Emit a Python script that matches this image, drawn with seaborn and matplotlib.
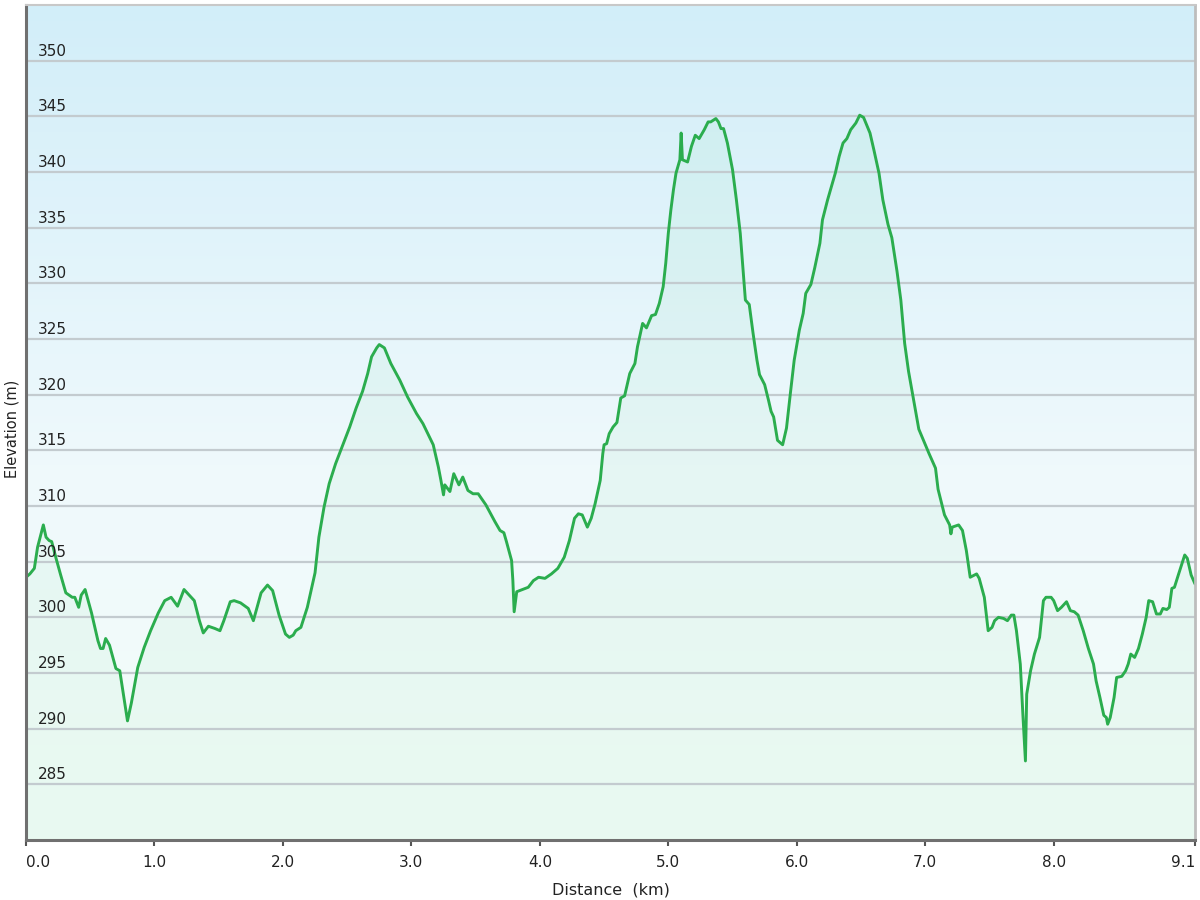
import numpy as np
import pandas as pd
import matplotlib
matplotlib.use("Agg")
import matplotlib.pyplot as plt
from matplotlib.colors import LinearSegmentedColormap
import seaborn as sns

# ---- data ----
distance_km = [
    0.00, 0.03, 0.065, 0.09, 0.135, 0.156, 0.18, 0.20, 0.234, 0.27, 0.31, 0.36, 0.38, 0.41, 0.43, 0.46,
    0.51, 0.56, 0.58, 0.60, 0.62, 0.65, 0.70, 0.73, 0.79, 0.82, 0.87, 0.92, 0.97, 1.03, 1.08, 1.13,
    1.18, 1.23, 1.31, 1.35, 1.38, 1.42, 1.47, 1.51, 1.54, 1.59, 1.62, 1.67, 1.73, 1.77, 1.83, 1.88,
    1.92, 1.97, 2.02, 2.05, 2.08, 2.10, 2.14, 2.19, 2.25, 2.28, 2.32, 2.36, 2.41, 2.47, 2.52, 2.57,
    2.62, 2.66, 2.69, 2.73, 2.75, 2.79, 2.84, 2.91, 2.97, 3.04, 3.09, 3.17, 3.21, 3.23, 3.25, 3.26,
    3.30, 3.33, 3.37, 3.40, 3.44, 3.48, 3.52, 3.58, 3.65, 3.69, 3.72, 3.74, 3.78, 3.79, 3.80, 3.82,
    3.91, 3.95, 3.99, 4.04, 4.09, 4.14, 4.19, 4.23, 4.27, 4.30, 4.33, 4.37, 4.40, 4.43, 4.47, 4.49,
    4.50, 4.52, 4.54, 4.57, 4.60, 4.63, 4.66, 4.70, 4.74, 4.76, 4.80, 4.83, 4.87, 4.90, 4.93, 4.96,
    4.98, 5.00, 5.02, 5.04, 5.06, 5.09, 5.10, 5.11, 5.15, 5.18, 5.21, 5.24, 5.28, 5.31, 5.33, 5.37,
    5.39, 5.41, 5.43, 5.46, 5.50, 5.53, 5.56, 5.58, 5.60, 5.63, 5.66, 5.69, 5.71, 5.75, 5.78, 5.80,
    5.82, 5.85, 5.89, 5.92, 5.95, 5.98, 6.02, 6.05, 6.07, 6.11, 6.14, 6.18, 6.20, 6.24, 6.27, 6.30,
    6.33, 6.36, 6.39, 6.42, 6.46, 6.49, 6.52, 6.57, 6.60, 6.64, 6.67, 6.71, 6.74, 6.78, 6.81, 6.84,
    6.87, 6.91, 6.95, 6.99, 7.03, 7.08, 7.10, 7.15, 7.19, 7.20, 7.21, 7.26, 7.29, 7.32, 7.35, 7.40,
    7.42, 7.46, 7.49, 7.52, 7.54, 7.57, 7.61, 7.64, 7.67, 7.69, 7.71, 7.74, 7.76, 7.78, 7.79, 7.82,
    7.85, 7.89, 7.92, 7.94, 7.98, 8.00, 8.03, 8.06, 8.10, 8.13, 8.16, 8.19, 8.23, 8.27, 8.31, 8.33,
    8.36, 8.39, 8.41, 8.42, 8.44, 8.47, 8.49, 8.53, 8.56, 8.58, 8.60, 8.63, 8.66, 8.69, 8.72, 8.74,
    8.77, 8.80, 8.83, 8.85, 8.88, 8.90, 8.92, 8.94, 8.97, 9.02, 9.04, 9.07, 9.10,
]
elevation_m = [
    303.6, 303.9, 304.4, 306.3, 308.3, 307.2, 306.9, 306.8, 305.3, 303.8, 302.2, 301.8, 301.8, 300.9, 302.0, 302.5,
    300.4, 297.9, 297.2, 297.2, 298.1, 297.5, 295.4, 295.2, 290.7, 292.3, 295.5, 297.3, 298.8, 300.4, 301.5, 301.8,
    301.0, 302.5, 301.5, 299.7, 298.6, 299.2, 299.0, 298.8, 299.7, 301.4, 301.5, 301.3, 300.8, 299.7, 302.2, 302.9,
    302.4, 300.2, 298.5, 298.2, 298.4, 298.8, 299.1, 300.9, 304.0, 307.2, 309.9, 312.0, 313.8, 315.6, 317.1, 318.8,
    320.3, 321.9, 323.4, 324.2, 324.5, 324.2, 322.8, 321.3, 319.8, 318.3, 317.4, 315.5, 313.5, 312.3, 311.0, 311.9,
    311.3, 312.9, 311.9, 312.6, 311.4, 311.1, 311.1, 310.1, 308.6, 307.8, 307.6, 306.8, 305.1, 303.3, 300.5, 302.3,
    302.7, 303.3, 303.6, 303.5, 303.9, 304.4, 305.4, 306.9, 308.9, 309.3, 309.2, 308.1, 308.9, 310.2, 312.3, 314.7,
    315.5, 315.6, 316.5, 317.1, 317.5, 319.7, 319.9, 321.9, 322.8, 324.3, 326.4, 326.0, 327.1, 327.2, 328.2, 329.7,
    331.8, 334.5, 336.6, 338.4, 339.9, 341.1, 343.5, 341.1, 340.9, 342.3, 343.3, 343.0, 343.8, 344.5, 344.5, 344.8,
    344.5, 343.9, 343.9, 342.6, 340.2, 337.5, 334.5, 331.5, 328.5, 328.1, 325.5, 323.1, 321.8, 320.9, 319.5, 318.5,
    318.0, 315.9, 315.5, 317.0, 320.1, 323.1, 325.8, 327.3, 329.1, 329.9, 331.4, 333.6, 335.7, 337.5, 338.7, 339.9,
    341.4, 342.6, 343.0, 343.8, 344.4, 345.1, 344.9, 343.5, 342.0, 339.9, 337.5, 335.3, 334.1, 331.1, 328.5, 324.6,
    322.1, 319.5, 316.9, 315.8, 314.7, 313.4, 311.5, 309.2, 308.3, 307.5, 308.1, 308.3, 307.8, 306.0, 303.6, 303.9,
    303.5, 301.8, 298.8, 299.1, 299.7, 300.0, 299.9, 299.7, 300.2, 300.2, 298.8, 295.8, 291.3, 287.1, 293.1, 295.2,
    296.7, 298.2, 301.5, 301.8, 301.8, 301.5, 300.6, 300.9, 301.4, 300.6, 300.5, 300.2, 298.8, 297.2, 295.8, 294.3,
    292.8, 291.2, 291.0, 290.4, 291.0, 292.8, 294.6, 294.7, 295.2, 295.8, 296.7, 296.4, 297.2, 298.5, 300.0, 301.5,
    301.4, 300.3, 300.3, 300.8, 300.7, 300.9, 302.6, 302.7, 303.8, 305.6, 305.3, 303.8, 303.0,
]
x_ticks = [0, 1, 2, 3, 4, 5, 6, 7, 8, 9.1]
x_tick_labels = ["0.0", "1.0", "2.0", "3.0", "4.0", "5.0", "6.0", "7.0", "8.0", "9.1"]
y_ticks = [285, 290, 295, 300, 305, 310, 315, 320, 325, 330, 335, 340, 345, 350]
x_label = "Distance  (km)"
y_label = "Elevation (m)"

df = pd.DataFrame({"distance": distance_km, "elevation": elevation_m})

sns.set_theme(style="white")
plt.rcParams["font.family"] = ["DejaVu Sans"]

fig = plt.figure(figsize=(12, 9), dpi=100)
ax = fig.add_axes([26 / 1200, 1 - 840 / 900, 1169 / 1200, 835 / 900])

xmin, xmax, ymin, ymax = 0, 9.1, 280, 355
ax.set_xlim(xmin, xmax)
ax.set_ylim(ymin, ymax)

# background gradient
cmap = LinearSegmentedColormap.from_list(
    "bg", [(0.0, "#f4fdf9"), (0.45, "#eff9fc"), (1.0, "#d2eef9")]
)
grad = np.linspace(0, 1, 256).reshape(-1, 1)
ax.imshow(grad, extent=[xmin, xmax, ymin, ymax], origin="lower",
          aspect="auto", cmap=cmap, zorder=0)

# fill under curve
ax.fill_between(df["distance"], df["elevation"], ymin, color="#3ccf6e",
                alpha=0.055, linewidth=0, zorder=1)

# line
sns.lineplot(data=df, x="distance", y="elevation", ax=ax, color="#2bad4e",
             linewidth=2.1, zorder=3, estimator=None, sort=False)

# grid
ax.set_yticks(y_ticks)
ax.yaxis.grid(True, color="#c3cbcf", linewidth=1.6, zorder=2)
ax.xaxis.grid(False)
ax.set_axisbelow(False)
ax.tick_params(axis="y", length=0, labelleft=False)

# y tick labels inside the plot, above the grid lines
for t in y_ticks:
    ax.text(0.0105, t + 0.45, str(t), transform=ax.get_yaxis_transform(),
            ha="left", va="baseline", fontsize=11, color="#222222", zorder=4)

# x ticks
ax.set_xticks(x_ticks)
ax.set_xticklabels(x_tick_labels, fontsize=11, color="#222222")
ax.tick_params(axis="x", direction="out", length=4.5, width=1.5,
               color="#555555", pad=6, bottom=True)
lbls = ax.get_xticklabels()
lbls[0].set_ha("left")
lbls[-1].set_ha("right")

ax.set_xlabel(x_label, fontsize=11.5, color="#222222", labelpad=9)
ax.set_ylabel(y_label, fontsize=10.5, color="#222222")
ax.yaxis.set_label_coords(-0.0055, 0.492)

# spines
for side, col, lw in [("left", "#707070", 2.2), ("bottom", "#707070", 2.2),
                      ("top", "#c8c8c8", 1.5), ("right", "#bdbdbd", 2.0)]:
    ax.spines[side].set_visible(True)
    ax.spines[side].set_color(col)
    ax.spines[side].set_linewidth(lw)
    ax.spines[side].set_zorder(5)

fig.patch.set_facecolor("white")
fig.savefig("out.png", dpi=100, facecolor="white")
